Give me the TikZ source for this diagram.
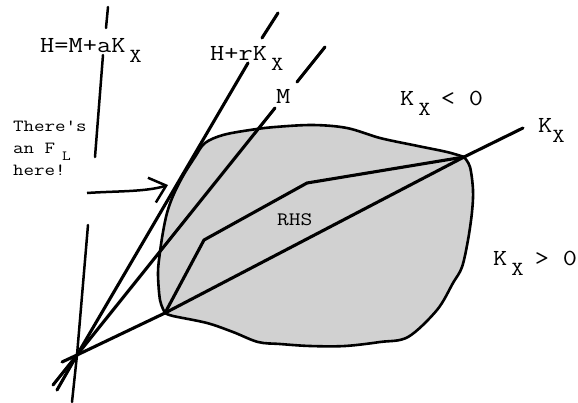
\documentclass[tikz,border=0pt]{standalone}
\usepackage{fontspec}
\newfontfamily\cour[FakeStretch=1.2]{Latin Modern Mono}
\usetikzlibrary{arrows.meta,calc}
\newcommand{\subx}[2][4pt]{\hspace{#1}\raisebox{-10pt}{\fontsize{20}{20}\selectfont #2}}

\begin{document}
\begin{tikzpicture}[x=1pt, y=-1pt,
  lab/.style={font=\cour\fontsize{23}{26}\selectfont, inner sep=0pt, anchor=base west},
  note/.style={font=\cour\fontsize{17}{22}\selectfont, inner sep=0pt, align=left, anchor=base west},
  ln/.style={line width=3.1pt, line cap=round, line join=round},
  hln/.style={line width=2.5pt, line cap=round},
  blob/.style={draw, fill=black!18, line width=2.6pt, line join=round},
  ptr/.style={-{Straight Barb[length=15pt,width=26pt]}, line width=2.5pt}]
  \useasboundingbox (0,0) rectangle (578,402);
  % key points
  \coordinate (O) at (77,355);
  \coordinate (P) at (165,313);
  \coordinate (Q) at (464,157);
  % right hand side set
  \draw[blob] plot[smooth, tension=0.55] coordinates {(P) (160,300) (158,273) (160,252) (163,232) (167,213) (173,196) (183,176) (195,157) (205,143) (223,135) (250,130) (275,127) (313,125) (347,128) (380,138) (413,145) (447,152) (Q)}
    -- plot[smooth, tension=0.55] coordinates {(Q) (470,167) (473,190) (472,212) (468,240) (462,267) (453,283) (437,310) (408,337) (380,342) (345,346) (310,346) (280,344) (258,342) (233,332) (207,323) (173,316) (P)} -- cycle;
  % rays
  \coordinate (kx0) at (62,362); \coordinate (kx1) at (523,128);
  \coordinate (r1) at (204,240); \coordinate (r2) at (307,183);
  \coordinate (m0) at (53,385); \coordinate (m1) at (275,108);
  \coordinate (m2) at (297,82); \coordinate (m3) at (325,47);
  \coordinate (hr0) at (57,390); \coordinate (hr1) at (248,63);
  \coordinate (hr2) at (262,38); \coordinate (hr3) at (278,13);
  \coordinate (h0) at (72,402); \coordinate (h1) at (88,225);
  \coordinate (h2) at (95,157); \coordinate (h3) at (103,55);
  \coordinate (h4) at (106,28); \coordinate (h5) at (108,7);
  \draw[ln] (kx0) -- (O) -- (P) -- (Q) -- (kx1);
  \draw[ln] (P) -- (r1) -- (r2) -- (Q);
  \draw[ln] (m0) -- (O) -- (m1); \draw[ln] (m2) -- (m3);
  \draw[ln] (hr0) -- (O) -- (hr1); \draw[ln] (hr2) -- (hr3);
  \draw[hln] (h0) -- (O) -- (h1); \draw[hln] (h2) -- (h3); \draw[hln] (h4) -- (h5);
  % labels
  \node[lab] (hlab) at (40,52) {H=M+aK\subx{X}};
  \node[lab] (hrlab) at (210,60) {H+rK\subx{X}};
  \node[lab] (mlab) at (276,103) {M};
  \node[lab] (kneg) at (400,105) {K\subx{X}\hspace{10pt}<\hspace{14pt}0};
  \node[lab] (kxlab) at (538,132) {K\subx[0pt]{X}};
  \node[lab] (kpos) at (493,265) {K\subx{X}\hspace{11pt}>\hspace{14pt}0};
  \node[lab, font=\cour\fontsize{19}{22}\selectfont] (rhs) at (277,225) {RHS};
  \node[note] (fl) at (13,175) {There's\\an F\hspace{7pt}\raisebox{-7pt}{\fontsize{14}{14}\selectfont L}\\here!};
  \coordinate (flstart) at (87,193); \coordinate (fltip) at (168,185);
  \draw[ptr] (flstart) .. controls (115,191) and (146,192) .. (fltip);
\end{tikzpicture}
\end{document}
